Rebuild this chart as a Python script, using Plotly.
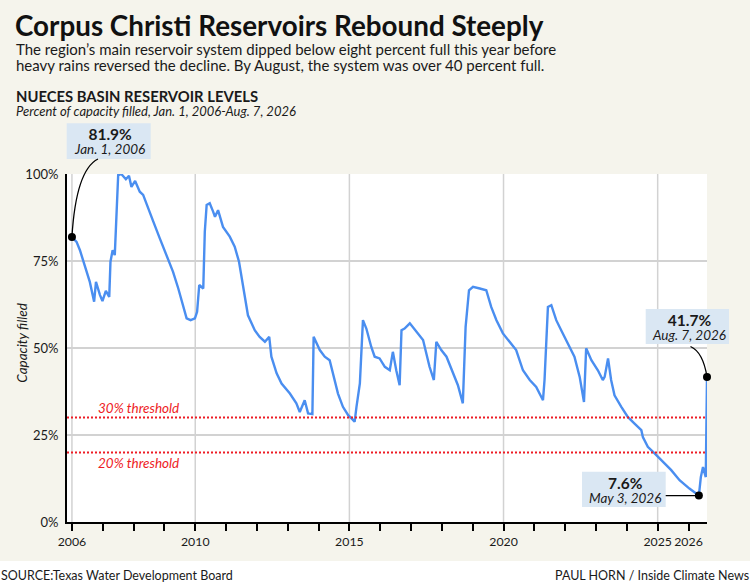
import plotly.graph_objects as go

# ---------------- data ----------------
years = [
    2006.00, 2006.15, 2006.26, 2006.42, 2006.58, 2006.72, 2006.78, 2006.91, 2006.99,
    2007.10, 2007.21, 2007.25, 2007.32, 2007.39, 2007.50, 2007.60, 2007.75, 2007.85,
    2007.93, 2008.05, 2008.20, 2008.31, 2008.47, 2008.64, 2008.85, 2009.07, 2009.28,
    2009.45, 2009.59, 2009.72, 2009.85, 2009.99, 2010.06, 2010.13, 2010.26, 2010.31,
    2010.37, 2010.47, 2010.58, 2010.64, 2010.74, 2010.90, 2011.12, 2011.28, 2011.42,
    2011.55, 2011.71, 2011.93, 2012.09, 2012.26, 2012.40, 2012.47, 2012.64, 2012.80,
    2013.07, 2013.28, 2013.39, 2013.55, 2013.66, 2013.80, 2013.84, 2014.04, 2014.20,
    2014.36, 2014.47, 2014.63, 2014.79, 2014.96, 2015.10, 2015.17, 2015.23, 2015.34,
    2015.44, 2015.55, 2015.71, 2015.82, 2015.98, 2016.15, 2016.31, 2016.41, 2016.52,
    2016.63, 2016.69, 2016.79, 2016.96, 2017.17, 2017.39, 2017.60, 2017.74, 2017.82,
    2017.98, 2018.15, 2018.36, 2018.52, 2018.68, 2018.77, 2018.88, 2019.01, 2019.23,
    2019.44, 2019.60, 2019.77, 2019.98, 2020.20, 2020.41, 2020.63, 2020.85, 2021.06,
    2021.28, 2021.33, 2021.44, 2021.55, 2021.71, 2021.87, 2022.09, 2022.30, 2022.47,
    2022.61, 2022.68, 2022.85, 2023.06, 2023.22, 2023.28, 2023.39, 2023.49, 2023.60,
    2023.82, 2024.03, 2024.25, 2024.47, 2024.52, 2024.68, 2024.90, 2025.17, 2025.44,
    2025.71, 2026.03, 2026.336, 2026.40, 2026.47, 2026.56, 2026.60,
]
capacity = [
    81.9, 80.5, 78.1, 73.8, 69.0, 63.3, 69.0, 65.2, 63.5,
    66.4, 64.7, 74.8, 78.1, 76.7, 99.7, 100.0, 98.5, 99.5,
    96.3, 98.0, 94.9, 94.0, 90.1, 86.3, 81.5, 76.7, 71.9,
    67.1, 62.3, 58.5, 58.0, 58.5, 60.4, 68.1, 67.1, 83.4,
    91.1, 91.6, 89.2, 87.7, 89.6, 84.8, 82.0, 79.1, 74.8,
    67.6, 59.4, 55.1, 53.2, 51.8, 53.2, 47.5, 42.7, 39.8,
    36.9, 34.1, 31.6, 35.0, 31.2, 31.0, 53.2, 49.4, 47.5,
    46.5, 42.7, 36.9, 33.1, 30.7, 29.5, 28.8, 33.1, 39.8,
    58.0, 55.6, 50.3, 47.5, 47.0, 44.6, 43.6, 48.9, 43.6,
    39.3, 55.1, 55.6, 57.1, 54.6, 52.3, 44.6, 40.8, 51.8,
    49.4, 47.5, 42.7, 39.3, 34.1, 56.1, 66.6, 67.6, 67.1,
    66.6, 61.8, 58.0, 54.2, 51.8, 49.4, 43.6, 40.8, 38.8,
    35.0, 40.8, 61.8, 62.3, 58.0, 55.1, 51.3, 47.5, 41.7,
    34.5, 49.9, 46.5, 43.6, 40.8, 41.7, 47.0, 40.8, 36.4,
    33.1, 30.2, 28.3, 26.4, 24.4, 21.6, 19.7, 17.3, 14.9,
    12.0, 9.6, 7.6, 12.9, 15.8, 12.9, 41.7,
]

x_tick_vals = [2006, 2010, 2015, 2020, 2025, 2026]
x_tick_text = ["2006", "2010", "2015", "2020", "2025", "2026"]
grid_years = [2006, 2010, 2015, 2020, 2025]
y_tick_vals = [0, 25, 50, 75, 100]
y_tick_text = ["0%", "25%", "50%", "75%", "100%"]

thresholds = [30, 20]
threshold_labels = ["30% threshold", "20% threshold"]

callout_years = [2006.0, 2026.336, 2026.60]
callout_values = [81.9, 7.6, 41.7]
callout_values_text = ["81.9%", "7.6%", "41.7%"]
callout_dates = ["Jan. 1, 2006", "May 3, 2026", "Aug. 7, 2026"]

title = "Corpus Christi Reservoirs Rebound Steeply"
subtitle = [
    "The region\u2019s main reservoir system dipped below eight percent full this year before",
    "heavy rains reversed the decline. By August, the system was over 40 percent full.",
]
chart_head = "NUECES BASIN RESERVOIR LEVELS"
chart_sub = "Percent of capacity filled, Jan. 1, 2006-Aug. 7, 2026"
y_title = "Capacity filled"
source = "SOURCE:Texas Water Development Board"
credit = "PAUL HORN / Inside Climate News"

# ---------------- layout geometry ----------------
W, H = 750, 583
L, R, T, B = 67, 707, 174, 522
X0, X1 = 2005.84, 2026.60
Y0, Y1 = 0, 100
FONT = "Lato, 'Open Sans', sans-serif"
BG = "#f5f4ec"
BOX = "#dae7f3"
BLUE = "#4a8ef0"
RED = "#ee1c25"
INK = "#1a1a1a"


def px(x):
    return (x - L) / (R - L)


def py(y):
    return (B - y) / (B - T)


def xpix(v):
    return L + (v - X0) / (X1 - X0) * (R - L)


def ypix(v):
    return B - (v - Y0) / (Y1 - Y0) * (B - T)


fig = go.Figure()
fig.add_trace(go.Scatter(
    x=years, y=capacity, mode="lines",
    line=dict(color=BLUE, width=2.4), hoverinfo="skip", showlegend=False,
))
fig.add_trace(go.Scatter(
    x=callout_years, y=callout_values, mode="markers",
    marker=dict(color="black", size=8), cliponaxis=False,
    hoverinfo="skip", showlegend=False,
))

shapes = []
for gy in grid_years:
    shapes.append(dict(type="line", xref="x", yref="paper", x0=gy, x1=gy, y0=0, y1=1,
                       line=dict(color="#d2d2d2", width=1.5), layer="below"))
for th in thresholds:
    shapes.append(dict(type="line", xref="paper", yref="y", x0=0, x1=1, y0=th, y1=th,
                       line=dict(color=RED, width=2, dash="2px,2px"), layer="above"))
shapes.append(dict(type="rect", xref="paper", yref="paper", x0=px(-2), x1=px(W + 2),
                   y0=py(561), y1=py(H + 2), fillcolor="white", line=dict(width=0),
                   layer="below"))
boxes = [(66.7, 123.3, 150.7, 159.0), (582.0, 471.7, 665.7, 507.0), (645.7, 309.0, 729.0, 344.0)]
for (bx0, by0, bx1, by1) in boxes:
    shapes.append(dict(type="rect", xref="paper", yref="paper", x0=px(bx0), x1=px(bx1),
                       y0=py(by1), y1=py(by0), fillcolor=BOX, line=dict(width=0),
                       layer="above"))

d0x, d0y = xpix(callout_years[0]), ypix(callout_values[0])
d1x, d1y = xpix(callout_years[1]), ypix(callout_values[1])
d2x, d2y = xpix(callout_years[2]), ypix(callout_values[2])
path0 = f"M {px(98)},{py(159)} Q {px(76)},{py(170)} {px(d0x)},{py(d0y)}"
path2 = f"M {px(690.5)},{py(346.5)} Q {px(703)},{py(352)} {px(d2x)},{py(d2y)}"
shapes.append(dict(type="path", xref="paper", yref="paper", path=path0,
                   line=dict(color="black", width=1.3)))
shapes.append(dict(type="path", xref="paper", yref="paper", path=path2,
                   line=dict(color="black", width=1.3)))
shapes.append(dict(type="line", xref="paper", yref="paper", x0=px(665.7), x1=px(d1x),
                   y0=py(d1y), y1=py(d1y), line=dict(color="black", width=1.3)))

ann = []


def text(t, x, y, size, xa="left", color=INK, angle=0, ya="middle", align="left"):
    ann.append(dict(text=t, x=px(x), y=py(y), xref="paper", yref="paper",
                    xanchor=xa, yanchor=ya, showarrow=False, borderpad=0, align=align,
                    textangle=angle, font=dict(family=FONT, size=size, color=color)))


def span(t, size):
    return f'<span style="font-size:{size}px">{t}</span>'


text(f"<b>{title}</b>", 14, 25, 27.8, color="#111111")
text(span(subtitle[0], 15) + "<br>" + span(subtitle[1], 15), 15, 56.7, 12)
text(f"<b>{chart_head}</b>", 15, 96, 14.8)
text(f"<i>{chart_sub}</i>", 15, 110.8, 13)
text(f"<i>{y_title}</i>", 21.7, 343, 13.5, xa="center", angle=-90)
for lab, yy in zip(threshold_labels, [408.3, 463.3]):
    text(f"<i>{lab}</i>", 96.7, yy, 13.5, color=RED)

callout_pos = [(109, 141.5), (625, 490.4), (689, 326.8)]
for (cx, cy), vt, dt in zip(callout_pos, callout_values_text, callout_dates):
    t = span(f"<b>{vt}</b>", 15.5) + "<br>" + span(f"<i>{dt}</i>", 13.5)
    text(t, cx, cy, 10.8, xa="center", align="center")

text(source, 0, 575, 12.5)
text(credit, 750, 575, 12.5, xa="right")

fig.update_layout(
    width=W, height=H,
    margin=dict(l=L, r=W - R, t=T, b=H - B, pad=0),
    paper_bgcolor=BG, plot_bgcolor="white",
    font=dict(family=FONT, size=13, color=INK),
    shapes=shapes, annotations=ann, showlegend=False,
    xaxis=dict(
        range=[X0, X1], tickmode="array", tickvals=x_tick_vals, ticktext=x_tick_text,
        tickangle=0,
        showgrid=False, zeroline=False, showline=True, linecolor="black", linewidth=2,
        ticks="outside", ticklen=7, tickwidth=1.5, tickcolor="black",
        tickfont=dict(family=FONT, size=12.3, color=INK),
        minor=dict(tickmode="linear", tick0=2006, dtick=1, ticks="outside", ticklen=7,
                   tickwidth=1.5, tickcolor="black", showgrid=False),
        fixedrange=True,
    ),
    yaxis=dict(
        range=[Y0, Y1], tickmode="array", tickvals=y_tick_vals, ticktext=y_tick_text,
        showgrid=True, gridcolor="#d2d2d2", gridwidth=1.5, zeroline=False,
        showline=True, linecolor="black", linewidth=2, ticks="", ticklabelstandoff=4,
        tickfont=dict(family=FONT, size=13, color=INK), fixedrange=True,
    ),
)

fig.write_html(
    "out.html",
    config={"displayModeBar": False},
    post_script="document.body.style.margin='0';document.body.style.padding='0';",
)
